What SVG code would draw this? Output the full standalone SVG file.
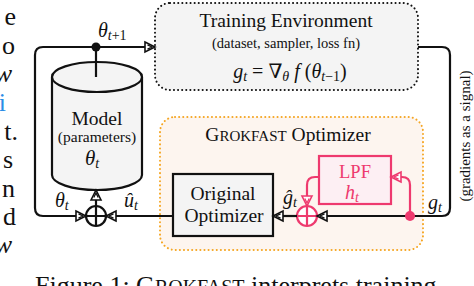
<svg xmlns="http://www.w3.org/2000/svg" width="474" height="286" viewBox="0 0 474 286">
<defs>
<style>
text{font-family:"Liberation Serif","DejaVu Serif",serif;fill:#111}
.m{font-style:italic}
.ln{fill:none;stroke:#111;stroke-width:2.2}
.pk{fill:none;stroke:#ee3a6e;stroke-width:2.2}
.pt{fill:#ee3a6e}
.body{font-size:26px;text-anchor:end}
</style>
<marker id="ab" markerUnits="userSpaceOnUse" markerWidth="14" markerHeight="14" refX="10" refY="5" orient="auto" overflow="visible">
<path d="M0,0 L10,5 L0,10 Z" fill="#fff" stroke="#111" stroke-width="1.6" stroke-linejoin="miter"/>
<path d="M2.5,2.8 L7,5 L2.5,7.2" fill="none" stroke="#111" stroke-width="1.3"/>
</marker>
<marker id="ap" markerUnits="userSpaceOnUse" markerWidth="14" markerHeight="14" refX="10" refY="5" orient="auto" overflow="visible">
<path d="M0,0 L10,5 L0,10 Z" fill="#fff" stroke="#ee3a6e" stroke-width="1.6"/>
<path d="M2.5,2.8 L7,5 L2.5,7.2" fill="none" stroke="#ee3a6e" stroke-width="1.3"/>
</marker>
</defs>
<rect width="474" height="286" fill="#fff"/>

<g id="page-text">
<text class="body" x="16" y="25">e</text>
<text class="body" x="15" y="54">o</text>
<text class="body" x="12" y="82" font-style="italic">w</text>
<text class="body" x="6" y="111" style="fill:#2b8ce6">i</text>
<text class="body" x="18" y="140">t.</text>
<text class="body" x="13" y="168">s</text>
<text class="body" x="15" y="197">n</text>
<text class="body" x="16" y="225">d</text>
<text class="body" x="12" y="253" font-style="italic">w</text>
<text x="35" y="294" font-size="26">Figure 1: G<tspan font-size="20">ROKFAST</tspan> interprets training</text>
</g>

<g id="training-env">
<rect x="155" y="3" width="263" height="87" rx="15" fill="#f4f4f4" stroke="#111" stroke-width="2" stroke-dasharray="0.1 4" stroke-linecap="round"/>
<text x="286" y="27" font-size="19.5" text-anchor="middle">Training Environment</text>
<text x="286" y="48" font-size="14.5" text-anchor="middle">(dataset, sampler, loss fn)</text>
<text x="290" y="78" font-size="20" text-anchor="middle"><tspan class="m">g</tspan><tspan font-size="14" class="m" dy="3">t</tspan><tspan dy="-3"> = ∇</tspan><tspan font-size="14" class="m" dy="3">θ</tspan><tspan class="m" dy="-3"> f </tspan><tspan>(</tspan><tspan class="m">θ</tspan><tspan font-size="14" class="m" dy="3">t</tspan><tspan font-size="14" dy="0">−1</tspan><tspan dy="-3">)</tspan></text>
</g>

<g id="grokfast">
<rect x="160" y="117" width="263" height="133" rx="15" fill="#fdf5ef" stroke="#f5a623" stroke-width="2" stroke-dasharray="0.1 4" stroke-linecap="round"/>
<text x="288" y="141" font-size="19.5" text-anchor="middle">G<tspan font-size="15">ROKFAST</tspan> Optimizer</text>
</g>

<g id="model">
<path d="M52,77 L52,175 A45,15 0 0 0 142,175 L142,77" fill="#f4f4f4" stroke="#111" stroke-width="2.2"/>
<ellipse cx="97" cy="77" rx="45" ry="15" fill="#f4f4f4" stroke="#111" stroke-width="2.2"/>
<text x="97" y="125" font-size="19.5" text-anchor="middle">Model</text>
<text x="97" y="142" font-size="15.5" text-anchor="middle">(parameters)</text>
<text x="92" y="165" font-size="21" text-anchor="middle"><tspan class="m">θ</tspan><tspan font-size="14" class="m" dy="3">t</tspan></text>
</g>

<g id="original-optimizer">
<rect x="173" y="174" width="100" height="62" fill="#f4f4f4" stroke="#111" stroke-width="2.2"/>
<text x="223" y="200" font-size="19.5" text-anchor="middle">Original</text>
<text x="224" y="222" font-size="19.5" text-anchor="middle">Optimizer</text>
</g>

<g id="lpf">
<rect x="319" y="156" width="72" height="48" fill="#fdeff3" stroke="#ee3a6e" stroke-width="2.2"/>
<text x="355" y="178" font-size="18.5" text-anchor="middle" style="fill:#ee3a6e">LPF</text>
<text x="352" y="199" font-size="20" text-anchor="middle" style="fill:#ee3a6e"><tspan class="m">h</tspan><tspan font-size="14" class="m" dy="3">t</tspan></text>
</g>

<g id="sum-model">
<circle cx="96" cy="216" r="10" fill="#fff" stroke="#111" stroke-width="2.2"/>
<path d="M86,216 H106 M96,206 V226" class="ln"/>
</g>

<g id="sum-grad">
<circle cx="307" cy="216" r="10" fill="#fff" stroke="#ee3a6e" stroke-width="2.2"/>
<path d="M297,216 H317 M307,206 V226" class="pk"/>
</g>

<g id="connectors">
<path class="ln" d="M96,77 V47"/>
<path class="ln" d="M96,47 H155" marker-end="url(#ab)"/>
<path class="ln" d="M96,47 H43 Q35,47 35,55 V208 Q35,216 43,216 H86" marker-end="url(#ab)"/>
<path class="ln" d="M96,206 V190" marker-end="url(#ab)"/>
<path class="ln" d="M173,216 H106" marker-end="url(#ab)"/>
<path class="ln" d="M418,47 H442 Q450,47 450,55 V208 Q450,216 442,216 H317" marker-end="url(#ab)"/>
<path class="ln" d="M297,216 H273" marker-end="url(#ab)"/>
<path class="pk" d="M410,216 V185 Q410,177 402,177 H391" marker-end="url(#ap)"/>
<path class="pk" d="M319,177 H315 Q307,177 307,185 V206" marker-end="url(#ap)"/>
<circle cx="96" cy="47" r="4.5" fill="#111"/>
<circle cx="410" cy="216" r="5" class="pt"/>
<text x="98" y="37" font-size="20"><tspan class="m">θ</tspan><tspan font-size="14" class="m" dy="3">t</tspan><tspan font-size="14" dy="0">+1</tspan></text>
<text x="55" y="207" font-size="20"><tspan class="m">θ</tspan><tspan font-size="14" class="m" dy="3">t</tspan></text>
<text x="124" y="207" font-size="20"><tspan class="m">û</tspan><tspan font-size="14" class="m" dy="3">t</tspan></text>
<text x="283" y="204" font-size="20"><tspan class="m">ĝ</tspan><tspan font-size="14" class="m" dy="3">t</tspan></text>
<text x="428" y="209" font-size="20"><tspan class="m">g</tspan><tspan font-size="14" class="m" dy="3">t</tspan></text>
<text transform="translate(470,136) rotate(-90)" font-size="15" text-anchor="middle">(gradients as a signal)</text>
</g>
</svg>
